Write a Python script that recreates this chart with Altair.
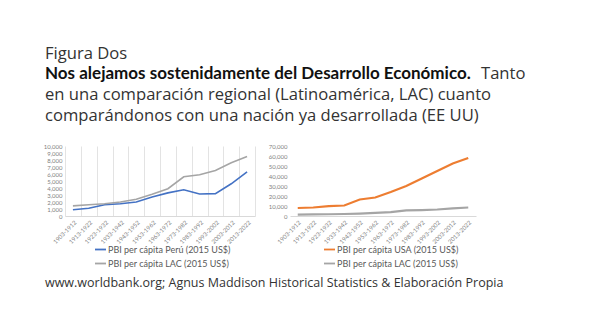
import altair as alt
import pandas as pd

periods = ["1903-1912", "1913-1922", "1923-1932", "1933-1942", "1943-1952", "1953-1962",
           "1963-1972", "1973-1982", "1983-1992", "1993-2002", "2003-2012", "2013-2022"]
peru = [900, 1100, 1600, 1750, 2000, 2700, 3300, 3750, 3150, 3200, 4600, 6300]
lac = [1450, 1600, 1750, 2000, 2400, 3100, 3900, 5600, 5900, 6500, 7600, 8500]
usa = [8000, 8500, 9800, 10500, 16500, 18500, 24000, 30000, 37500, 45000, 52500, 58000]

s_peru = "PBI per cápita Perú (2015 US$)"
s_lac = "PBI per cápita LAC (2015 US$)"
s_usa = "PBI per cápita USA (2015 US$)"

title_1 = "Figura Dos"
title_bold = "Nos alejamos sostenidamente del Desarrollo Económico."
title_rest = "Tanto"
title_3 = "en una comparación regional (Latinoamérica, LAC) cuanto"
title_4 = "comparándonos con una nación ya desarrollada (EE UU)"
footer = "www.worldbank.org; Agnus Maddison Historical Statistics & Elaboración Propia"

df_left = pd.DataFrame({
    "periodo_a": periods * 2,
    "valor_a": peru + lac,
    "serie_a": [s_peru] * len(periods) + [s_lac] * len(periods),
})
df_right = pd.DataFrame({
    "periodo_b": periods * 2,
    "valor_b": usa + lac,
    "serie_b": [s_usa] * len(periods) + [s_lac] * len(periods),
})

FONT = "Lato"
TFONT = "Open Sans"
lab_col = "#7f7f7f"

def legend(x, y):
    return alt.Legend(title=None, orient="none", legendX=x, legendY=y, direction="vertical",
                      symbolType="stroke", symbolSize=121, symbolStrokeWidth=1.8,
                      labelFontSize=9, labelColor="#595959", labelFont=FONT,
                      rowPadding=2, padding=0, labelOffset=1)

left = alt.Chart(df_left).mark_line(strokeWidth=1.6).encode(
    x=alt.X("periodo_a:N", sort=periods,
            scale=alt.Scale(type="band", range=[0, 190], paddingInner=0, paddingOuter=0),
            axis=alt.Axis(title=None, orient="bottom", labelAngle=-45, labelFontSize=6,
                          labelColor=lab_col, labelFont=FONT, grid=True, gridColor="#e3e3e3",
                          tickBand="extent", ticks=False, domainColor="#d9d9d9", labelPadding=3)),
    y=alt.Y("valor_a:Q", scale=alt.Scale(domain=[0, 10000], nice=False),
            axis=alt.Axis(title=None, orient="left", values=list(range(0, 10001, 1000)),
                          labelExpr="format(datum.value, ',')", grid=False, domain=False, ticks=False,
                          labelFontSize=6, labelColor=lab_col, labelFont=FONT, labelPadding=3)),
    color=alt.Color("serie_a:N", scale=alt.Scale(domain=[s_peru, s_lac], range=["#4472C4", "#A5A5A5"]),
                    legend=legend(29, 97)),
)

right = alt.Chart(df_right).mark_line(strokeWidth=2.2).encode(
    x=alt.X("periodo_b:N", sort=periods,
            scale=alt.Scale(type="band", range=[225, 411], paddingInner=0, paddingOuter=0),
            axis=alt.Axis(title=None, orient="bottom", labelAngle=-45, labelFontSize=6,
                          labelColor=lab_col, labelFont=FONT, grid=False, ticks=False,
                          domainColor="#d9d9d9", labelPadding=3)),
    y=alt.Y("valor_b:Q", scale=alt.Scale(domain=[0, 70000], nice=False),
            axis=alt.Axis(title=None, orient="left", offset=-225, values=list(range(0, 70001, 10000)),
                          labelExpr="format(datum.value, ',')", grid=False, domain=False, ticks=False,
                          labelFontSize=6, labelColor=lab_col, labelFont=FONT, labelPadding=3)),
    color=alt.Color("serie_b:N", scale=alt.Scale(domain=[s_usa, s_lac], range=["#ED7D31", "#A5A5A5"]),
                    legend=legend(258, 97)),
)

def text_layer(txt, x, y, size, color, weight="normal", font=TFONT):
    return alt.Chart(pd.DataFrame({"t": [txt]})).mark_text(
        align="left", baseline="alphabetic", font=font, fontSize=size, color=color, fontWeight=weight
    ).encode(text="t:N", x=alt.value(x), y=alt.value(y))

texts = [
    text_layer(title_1, -20, -87, 16.6, "#333333"),
    text_layer(title_bold, -20, -67, 17, "#111111", "bold", FONT),
    text_layer(title_rest, 416, -67, 16.6, "#333333"),
    text_layer(title_3, -20, -46, 16.6, "#333333"),
    text_layer(title_4, -20, -25, 16.6, "#333333"),
    text_layer(footer, -20, 141, 12.5, "#333333"),
]

chart = alt.layer(left, right, *texts).resolve_scale(
    x="independent", y="independent", color="independent"
).properties(
    width=411, height=70,
    autosize=alt.AutoSizeParams(type="none"),
    padding={"left": 65, "top": 146, "right": 113, "bottom": 115},
    background="white",
).configure_view(stroke=None)

chart.save("out.html", embed_options={"renderer": "svg", "actions": False})
